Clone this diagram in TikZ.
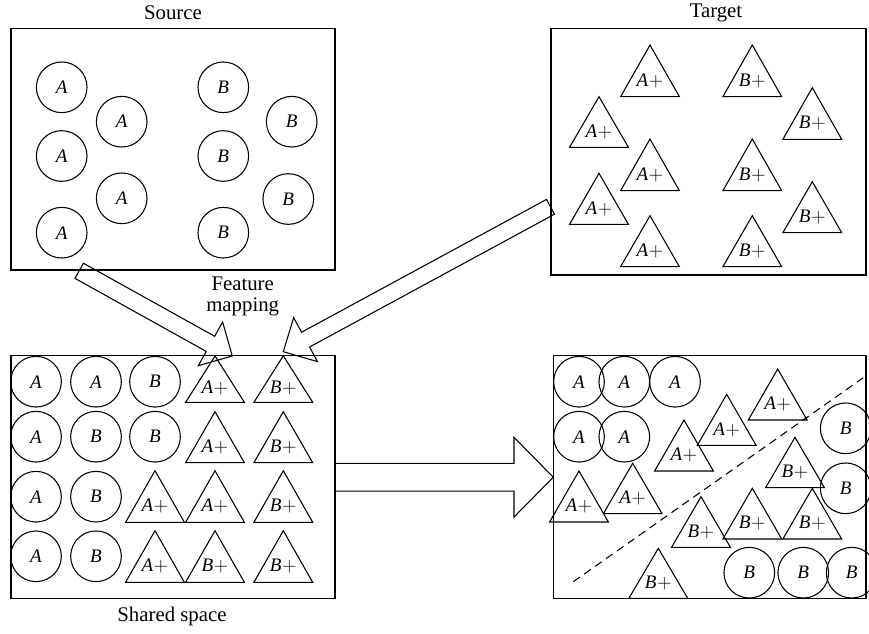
\documentclass[tikz,border=0pt]{standalone}
\usepackage{fontspec}
\setmainfont{Liberation Serif}
\usetikzlibrary{calc}
\tikzset{
  shp/.style={draw=black, line width=0.8pt, line join=miter},
  box/.style={draw=black, line width=0.8pt},
  circ/.style={circle, draw=black, line width=0.8pt, minimum size=38pt, inner sep=0pt, font=\fontsize{14.3}{16}\selectfont\itshape},
  lbl/.style={inner sep=0pt, font=\fontsize{14.3}{16}\selectfont},
  captxt/.style={inner sep=0pt, font=\fontsize{15.6}{18}\selectfont},
  sep/.style={draw=black, line width=0.8pt, dash pattern=on 6pt off 4pt}
}
\newcommand{\mytri}[5]{%
  \draw[shp] (#2-29.4,#4) -- (#2,#3) -- (#2+29.4,#4) -- cycle;
  \node[lbl] (#1) at (#2,{#3+0.69*(#4-#3)}) {#5};
}
\newcommand{\blockarrow}[5]{%
  \coordinate (#1b) at ($(#2)!#5!(#1)$);
  \draw[shp] ($(#1)!#3!90:(#2)$) -- ($(#1b)!#3!90:(#2)$) -- ($(#1b)!#4!90:(#2)$) -- (#2)
    -- ($(#1b)!#4!-90:(#2)$) -- ($(#1b)!#3!-90:(#2)$) -- ($(#1)!#3!-90:(#2)$) -- cycle;
}
\newcommand{\Ap}{\textit{A}\kern0.3pt$+$}
\newcommand{\Bp}{\textit{B}\kern0.3pt$+$}
\begin{document}
\begin{tikzpicture}[x=0.75pt,y=-0.75pt]
\useasboundingbox (0,0) rectangle (869,633);

% boxes
\draw[box] (11,28.3) rectangle (335,270);
\draw[box] (551,28.3) rectangle (866,275);
\draw[box] (11,355.7) rectangle (335,598.3);
\draw[box] (553.3,355.7) rectangle (866,598.3);

% captions
\node[captxt] (lsrc) at (173,13) {Source};
\node[captxt] (ltgt) at (716,13) {Target};
\node[captxt] (lsh) at (172,616) {Shared space};
\node[captxt] (lfm1) at (242.7,283.3) {Feature};
\node[captxt] (lfm2) at (242.7,306.5) {mapping};

% source circles
\node[circ] (sa1) at (61.7,87.3) {A};
\node[circ] (sa2) at (121.7,121.7) {A};
\node[circ] (sa3) at (61.7,156) {A};
\node[circ] (sa4) at (121.7,198.3) {A};
\node[circ] (sa5) at (61.7,232.7) {A};
\node[circ] (sb1) at (223.3,87.3) {B};
\node[circ] (sb2) at (291.7,121.7) {B};
\node[circ] (sb3) at (223.3,156) {B};
\node[circ] (sb4) at (288.3,199) {B};
\node[circ] (sb5) at (223.3,232.7) {B};

% target triangles
\mytri{t1}{650}{45}{96.7}{\Ap}
\mytri{t2}{752.3}{45}{96.7}{\Bp}
\mytri{t3}{599}{96.7}{147.3}{\Ap}
\mytri{t4}{812.3}{87.7}{139.3}{\Bp}
\mytri{t5}{650}{139}{190.7}{\Ap}
\mytri{t6}{752.3}{139}{190.7}{\Bp}
\mytri{t7}{599}{173.3}{224.3}{\Ap}
\mytri{t8}{812.3}{181.7}{232.7}{\Bp}
\mytri{t9}{650}{215.7}{266.7}{\Ap}
\mytri{t10}{752.3}{215.7}{266.7}{\Bp}

% shared space circles
\node[circ] (c11) at (36,381.7) {A};
\node[circ] (c12) at (96,381.7) {A};
\node[circ] (c13) at (155,381.7) {B};
\node[circ] (c21) at (36,436.7) {A};
\node[circ] (c22) at (96,436.7) {B};
\node[circ] (c23) at (155,436.7) {B};
\node[circ] (c31) at (36,496.7) {A};
\node[circ] (c32) at (96,496.7) {B};
\node[circ] (c41) at (36,556.3) {A};
\node[circ] (c42) at (96,556.3) {B};

% shared space triangles
\mytri{s1}{215}{356}{402.3}{\Ap}
\mytri{s2}{283.3}{355.7}{402.3}{\Bp}
\mytri{s3}{215}{411.7}{462.7}{\Ap}
\mytri{s4}{283.3}{411.7}{462.7}{\Bp}
\mytri{s5}{155}{470.7}{522.3}{\Ap}
\mytri{s6}{215}{470.7}{522.3}{\Ap}
\mytri{s7}{283.3}{470.7}{522.3}{\Bp}
\mytri{s8}{155}{530.7}{582.3}{\Ap}
\mytri{s9}{215}{530.7}{582.3}{\Bp}
\mytri{s10}{283.3}{530.7}{582.3}{\Bp}

% result circles
\node[circ] (ra1) at (579,381.7) {A};
\node[circ] (ra2) at (624.3,381.7) {A};
\node[circ] (ra3) at (675,381.7) {A};
\node[circ] (ra4) at (579,436.7) {A};
\node[circ] (ra5) at (624.3,436.7) {A};
\node[circ] (rb1) at (845.7,428.3) {B};
\node[circ] (rb2) at (845.7,488.3) {B};
\node[circ] (rb3) at (749.3,572.7) {B};
\node[circ] (rb4) at (803.3,572.7) {B};
\node[circ] (rb5) at (851.7,572.7) {B};

% result triangles
\mytri{r1}{777.7}{369}{420}{\Ap}
\mytri{r2}{726.7}{394.3}{445.3}{\Ap}
\mytri{r3}{684}{420}{471}{\Ap}
\mytri{r4}{579}{471}{522}{\Ap}
\mytri{r5}{632.7}{463.3}{513.7}{\Ap}
\mytri{r6}{795}{437.3}{487.7}{\Bp}
\mytri{r7}{701}{496.7}{547.3}{\Bp}
\mytri{r8}{752.3}{488.3}{539}{\Bp}
\mytri{r9}{812.3}{488.3}{539}{\Bp}
\mytri{r10}{658.3}{548.3}{598.3}{\Bp}

% separating line
\coordinate (d1) at (573.3,581.7);
\coordinate (d2) at (863.3,377.7);
\draw[sep] (d1) -- (d2);

% block arrows
\coordinate (a1) at (79.2,270.8);
\coordinate (a1t) at (232.3,356);
\blockarrow{a1}{a1t}{6.5pt}{18.75pt}{18.75pt}
\coordinate (a2) at (550.5,206.8);
\coordinate (a2t) at (283.3,351.7);
\blockarrow{a2}{a2t}{6.3pt}{18.75pt}{19pt}
\coordinate (a3) at (335,477.2);
\coordinate (a3t) at (553.3,477.2);
\blockarrow{a3}{a3t}{10.4pt}{29.9pt}{29.5pt}
\end{tikzpicture}
\end{document}
